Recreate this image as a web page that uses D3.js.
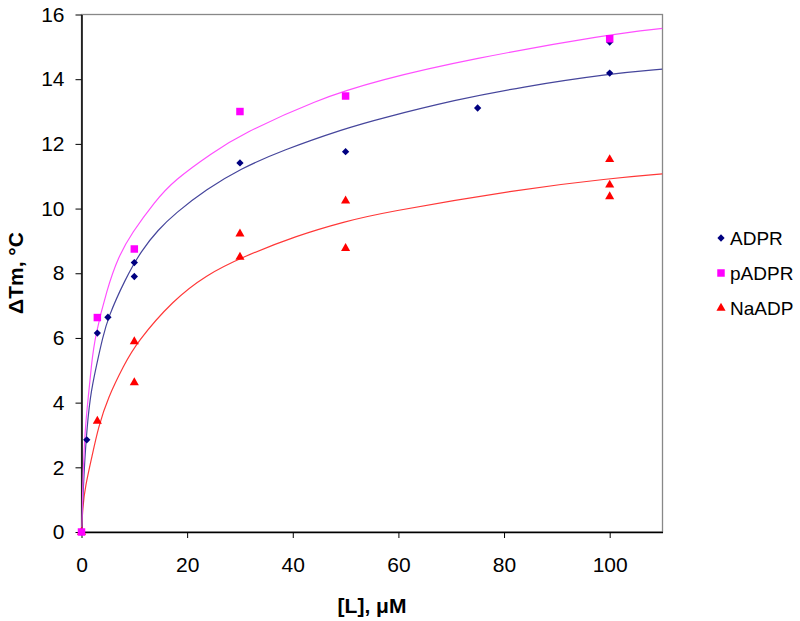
<!DOCTYPE html>
<html>
<head>
<meta charset="utf-8">
<script src="https://cdn.jsdelivr.net/npm/d3@7"></script>
<style>
body{margin:0;background:#fff;}
svg{display:block;font-family:"Liberation Sans",Arial,sans-serif;}
</style>
</head>
<body>
<div id="chart"></div>
<script>
// measured points [L] (uM), dTm (C)
var adprPts=[[0,0],[1,2.85],[3,6.15],[5,6.64],[10,8.33],[10,7.9],[30,11.41],[50,11.76],[75,13.11],[100,14.19],[100,15.15]];
var padprPts=[[0,0],[3,6.63],[10,8.75],[30,13.0],[50,13.48],[100,15.25]];
var naadpPts=[[0,0],[3,3.43],[10,5.89],[10,4.62],[30,9.22],[30,8.5],[50,10.24],[50,8.77],[100,11.52],[100,10.73],[100,10.37]];

// fitted curves
var adprFit=[[0,0],[0.4,1.6],[0.85,2.85],[1.6,4.2],[2.9,5.2],[4,6.0],[5,6.62],[8.2,7.8],[11.4,8.72],[14.5,9.34],[17.7,9.85],[23.7,10.6],[30,11.22],[38,11.8],[50,12.48],[56.5,12.78],[71,13.37],[83,13.75],[100,14.17],[110,14.31]];
var padprFit=[[0,0],[0.3,1.8],[0.66,3.16],[1.3,4.2],[1.9,5.2],[2.55,6.04],[4.8,7.5],[7,8.52],[9.5,9.24],[13.9,10.22],[17.4,10.86],[24.9,11.74],[30,12.27],[44.5,13.37],[56.5,13.98],[73.5,14.62],[100,15.39],[110,15.57]];
var naadpFit=[[0,0],[0.25,0.8],[0.7,1.4],[2,2.35],[3.2,3.25],[5,4.15],[8,5.15],[10.4,5.85],[17.4,7.18],[23.7,7.95],[30,8.47],[41,9.18],[50,9.6],[56.5,9.86],[83,10.6],[100,10.93],[110,11.07]];

var seriesNames=["ADPR","pADPR","NaADP"];
var xTicks=[0,20,40,60,80,100];
var yTicks=[0,2,4,6,8,10,12,14,16];

var W=800,H=621;
var svg=d3.select("#chart").append("svg").attr("width",W).attr("height",H);

var x=d3.scaleLinear().domain([0,110]).range([81.5,662.5]);
var y=d3.scaleLinear().domain([0,16]).range([532,14.5]);

// plot frame (grey top/right)
svg.append("rect")
  .attr("x",x(0)).attr("y",y(16))
  .attr("width",x(110)-x(0)).attr("height",y(0)-y(16))
  .style("fill","none").style("stroke","#888").style("stroke-width",1.3);

svg.append("clipPath").attr("id","clip").append("rect")
  .attr("x",x(0)).attr("y",y(16)).attr("width",x(110)-x(0)).attr("height",y(0)-y(16));

var gx=svg.append("g").attr("transform","translate(0,"+y(0)+")")
  .call(d3.axisBottom(x).tickValues(xTicks).tickSize(6).tickPadding(19).tickSizeOuter(0));
var gy=svg.append("g").attr("transform","translate("+x(0)+",0)")
  .call(d3.axisLeft(y).tickValues(yTicks).tickSize(6).tickPadding(11).tickSizeOuter(0));
[gx,gy].forEach(function(g){
  g.select(".domain").style("stroke","#000").style("stroke-width",1.5);
  g.selectAll(".tick line").style("stroke","#000").style("stroke-width",1);
  g.selectAll("text").style("font-size","21px").style("fill","#000").style("font-family","Liberation Sans, Arial, sans-serif");
});

// axis titles
svg.append("text").attr("x",372).attr("y",613).attr("text-anchor","middle")
  .style("font-size","21px").style("font-weight","bold").text("[L], \u03BCM");
svg.append("text").attr("transform","translate(23,273) rotate(-90)").attr("text-anchor","middle")
  .style("font-size","21px").style("font-weight","bold").text("\u0394Tm, \u00B0C");

// fit lines
var line=d3.line().x(function(d){return x(d[0]);}).y(function(d){return y(d[1]);}).curve(d3.curveBasis);
var fits=[[naadpFit,"#ff3838"],[adprFit,"#46469c"],[padprFit,"#ff50ff"]];
var lg=svg.append("g").attr("clip-path","url(#clip)");
fits.forEach(function(f){
  lg.append("path").datum(f[0]).attr("d",line)
    .style("fill","none").style("stroke",f[1]).style("stroke-width",1.2);
});

// markers
var sym={
  ADPR:{type:d3.symbolDiamond2,size:34,color:"#000080"},
  pADPR:{type:d3.symbolSquare,size:56,color:"#ff00ff"},
  NaADP:{type:d3.symbolTriangle,size:36,color:"#ff0000"}
};
function markers(data,name){
  var s=sym[name];
  svg.append("g").selectAll("path").data(data).enter().append("path")
    .attr("transform",function(d){return "translate("+x(d[0])+","+y(d[1])+")";})
    .attr("d",d3.symbol().type(s.type).size(s.size))
    .style("fill",s.color);
}
markers(naadpPts,"NaADP");
markers(adprPts,"ADPR");
markers(padprPts,"pADPR");

// legend
var leg=svg.append("g").selectAll("g").data(seriesNames).enter().append("g")
  .attr("transform",function(d,i){return "translate(721,"+(238+i*35)+")";});
leg.append("path").attr("d",function(d){return d3.symbol().type(sym[d].type).size(sym[d].size)();})
  .style("fill",function(d){return sym[d].color;});
leg.append("text").attr("x",9).attr("dy","0.36em").style("font-size","19px").text(function(d){return d;});
</script>
</body>
</html>
